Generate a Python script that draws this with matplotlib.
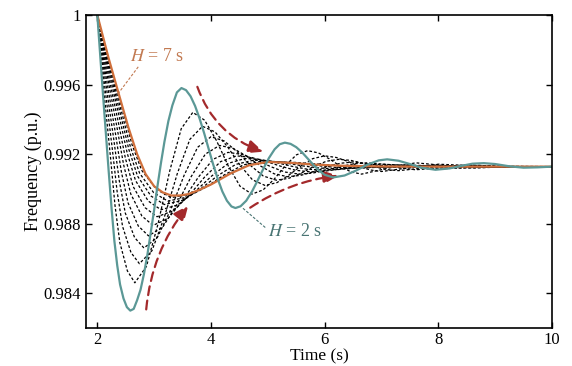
import matplotlib
matplotlib.use("Agg")
import matplotlib.pyplot as plt
from matplotlib.patches import FancyArrowPatch

plt.rcParams['font.family'] = ['Liberation Serif', 'DejaVu Serif']
plt.rcParams['mathtext.fontset'] = 'stix'

# ---- data ----
# H = 2 s (teal)
t_h2 = [2.00, 2.05, 2.10, 2.15, 2.20, 2.25, 2.30, 2.35, 2.40, 2.46, 2.52, 2.58,
        2.64, 2.70, 2.76, 2.82, 2.88, 2.94, 3.00, 3.06, 3.12, 3.18, 3.25, 3.32,
        3.40, 3.48, 3.56, 3.64, 3.72, 3.80, 3.88, 3.96, 4.04, 4.12, 4.20, 4.28,
        4.36, 4.43, 4.52, 4.62, 4.72, 4.82, 4.92, 5.02, 5.12, 5.21, 5.30, 5.40,
        5.50, 5.60, 5.70, 5.80, 5.90, 6.00, 6.15, 6.35, 6.55, 6.75, 6.95, 7.10,
        7.30, 7.50, 7.70, 7.95, 8.20, 8.40, 8.60, 8.80, 9.00, 9.25, 9.50, 9.75, 10.0]
f_h2 = [1.0000, 0.9977, 0.9954, 0.9932, 0.9910, 0.9889, 0.9870, 0.9856, 0.9845, 0.9837, 0.9832, 0.9830,
        0.9831, 0.9836, 0.9842, 0.9851, 0.9862, 0.9875, 0.9888, 0.9902, 0.9915, 0.9927, 0.9939, 0.9948,
        0.99555, 0.9958, 0.99568, 0.99533, 0.99477, 0.99404, 0.9932, 0.99229, 0.99139, 0.99056, 0.98985, 0.98932,
        0.98899, 0.9889, 0.9890, 0.98932, 0.98984, 0.99048, 0.99115, 0.99178, 0.99228, 0.99257, 0.99266, 0.99259,
        0.9924, 0.99211, 0.99175, 0.99139, 0.99106, 0.99081, 0.99066, 0.99077, 0.99105, 0.99139, 0.99164, 0.9917,
        0.99162, 0.99143, 0.99122, 0.9911, 0.99118, 0.99132, 0.99145, 0.99148, 0.99143, 0.9913, 0.99122, 0.99124, 0.99128]

# H = 7 s (orange)
t_h7 = [2.00, 2.20, 2.40, 2.55, 2.70, 2.85, 3.00, 3.15, 3.30, 3.45, 3.60, 3.80,
        4.01, 4.34, 4.67, 5.00, 5.40, 5.80, 6.30, 7.00, 8.00, 10.0]
f_h7 = [1.0000, 0.9975, 0.9952, 0.9935, 0.9920, 0.99085, 0.99015, 0.9898, 0.98962, 0.98962, 0.9897, 0.98995,
        0.99027, 0.99088, 0.99136, 0.99155, 0.9915, 0.9914, 0.99133, 0.99129, 0.99128, 0.99128]

# intermediate inertia values (black dotted)
d1_t = [2.0, 2.099, 2.231, 2.31, 2.396, 2.528, 2.66, 2.864, 3.068, 3.272, 3.476, 3.68, 3.888, 4.096, 4.304,
        4.512, 4.72, 4.916, 5.112, 5.308, 5.504, 5.70, 5.89, 6.08, 6.27, 6.46, 6.65, 7.1, 7.6, 8.1, 8.6, 9.3, 10.0]
d1_f = [1.0, 0.99615, 0.99184, 0.98907, 0.98691, 0.98529, 0.9846, 0.98554, 0.98799, 0.99101, 0.99346, 0.9944,
        0.99395, 0.99278, 0.99132, 0.99015, 0.9897, 0.98994, 0.99056, 0.99134, 0.99196, 0.9922, 0.99207, 0.99173,
        0.99132, 0.99098, 0.99085, 0.99118, 0.9915, 0.99135, 0.9912, 0.99128, 0.99128]
d2_t = [2.0, 2.111, 2.259, 2.348, 2.444, 2.592, 2.74, 2.962, 3.184, 3.406, 3.628, 3.85, 4.07, 4.29, 4.51,
        4.73, 4.95, 5.16, 5.37, 5.58, 5.79, 6.0, 6.2, 6.4, 6.6, 6.8, 7.0, 7.5, 8.0, 8.5, 9.2, 10.0]
d2_f = [1.0, 0.99642, 0.99242, 0.98985, 0.98784, 0.98634, 0.9857, 0.98645, 0.98843, 0.99087, 0.99285, 0.9936,
        0.99328, 0.99243, 0.99137, 0.99052, 0.9902, 0.99036, 0.99079, 0.99131, 0.99174, 0.9919, 0.99181, 0.99159,
        0.99131, 0.99109, 0.9910, 0.99122, 0.99142, 0.99135, 0.99124, 0.99128]
d3_t = [2.0, 2.123, 2.287, 2.385, 2.492, 2.656, 2.82, 3.056, 3.292, 3.528, 3.764, 4.0, 4.23, 4.46, 4.69,
        4.92, 5.15, 5.37, 5.59, 5.81, 6.03, 6.25, 6.46, 6.67, 6.88, 7.09, 7.3, 7.9, 8.5, 9.2, 10.0]
d3_f = [1.0, 0.99665, 0.9929, 0.99049, 0.98861, 0.9872, 0.9866, 0.98721, 0.98881, 0.99079, 0.99239, 0.9930,
        0.99276, 0.99214, 0.99136, 0.99074, 0.9905, 0.99061, 0.99091, 0.99129, 0.99159, 0.9917, 0.99164, 0.99148,
        0.99127, 0.99111, 0.99105, 0.99125, 0.99138, 0.99128, 0.99128]
d4_t = [2.0, 2.135, 2.315, 2.423, 2.54, 2.72, 2.90, 3.15, 3.40, 3.65, 3.90, 4.15, 4.39, 4.63, 4.87,
        5.11, 5.35, 5.58, 5.81, 6.04, 6.27, 6.5, 7.05, 7.6, 8.15, 8.7, 9.4, 10.0]
d4_f = [1.0, 0.99682, 0.99327, 0.99098, 0.9892, 0.98787, 0.9873, 0.9878, 0.9891, 0.9907, 0.9920, 0.9925,
        0.99233, 0.99188, 0.99132, 0.99087, 0.9907, 0.99078, 0.99099, 0.99126, 0.99147, 0.99155, 0.99132, 0.9911,
        0.99124, 0.99135, 0.99128, 0.99128]
d5_t = [2.0, 2.147, 2.343, 2.461, 2.588, 2.784, 2.98, 3.244, 3.508, 3.772, 4.036, 4.30, 4.55, 4.80, 5.05,
        5.30, 5.55, 5.79, 6.03, 6.27, 6.51, 6.75, 7.4, 8.0, 8.7, 9.4, 10.0]
d5_f = [1.0, 0.99697, 0.99359, 0.99141, 0.98971, 0.98844, 0.9879, 0.9883, 0.98935, 0.99065, 0.9917, 0.9921,
        0.99198, 0.99167, 0.99128, 0.99097, 0.99085, 0.99091, 0.99107, 0.99128, 0.99144, 0.9915, 0.99132, 0.99115,
        0.99125, 0.9913, 0.99128]
d6_t = [2.0, 2.158, 2.368, 2.494, 2.63, 2.84, 3.05, 3.33, 3.61, 3.89, 4.17, 4.45, 4.71, 4.97, 5.23,
        5.49, 5.75, 6.0, 6.25, 6.5, 6.75, 7.0, 7.7, 8.4, 9.2, 10.0]
d6_f = [1.0, 0.9971, 0.99385, 0.99176, 0.99014, 0.98892, 0.9884, 0.98873, 0.98961, 0.99069, 0.99157, 0.9919,
        0.99181, 0.99158, 0.9913, 0.99107, 0.99098, 0.99102, 0.99113, 0.99127, 0.99138, 0.99142, 0.99132, 0.9912,
        0.99127, 0.99128]
d7_t = [2.0, 2.168, 2.392, 2.526, 2.672, 2.896, 3.12, 3.416, 3.712, 4.008, 4.304, 4.6, 4.87, 5.14, 5.41,
        5.68, 5.95, 6.22, 6.49, 6.76, 7.03, 7.3, 8.0, 8.8, 10.0]
d7_f = [1.0, 0.9972, 0.99406, 0.99205, 0.99048, 0.9893, 0.9888, 0.98908, 0.98982, 0.99073, 0.99147, 0.99175,
        0.99169, 0.99152, 0.99131, 0.99114, 0.99108, 0.99111, 0.99118, 0.99128, 0.99135, 0.99138, 0.99132, 0.99124,
        0.99128]
d8_t = [2.0, 2.177, 2.413, 2.555, 2.708, 2.944, 3.18, 3.494, 3.808, 4.122, 4.436, 4.75, 5.04, 5.33, 5.62,
        5.91, 6.2, 6.9, 7.6, 8.5, 10.0]
d8_f = [1.0, 0.99727, 0.99422, 0.99226, 0.99073, 0.98959, 0.9891, 0.98934, 0.98998, 0.99077, 0.99141, 0.99165,
        0.9916, 0.99148, 0.99132, 0.9912, 0.99115, 0.99125, 0.99134, 0.99128, 0.99128]
d9_t = [2.0, 2.186, 2.434, 2.583, 2.744, 2.992, 3.24, 3.572, 3.904, 4.236, 4.568, 4.9, 5.22, 5.54, 5.86,
        6.18, 6.5, 7.2, 8.0, 9.0, 10.0]
d9_f = [1.0, 0.99732, 0.99433, 0.9924, 0.9909, 0.98978, 0.9893, 0.98952, 0.99009, 0.99081, 0.99138, 0.9916,
        0.99156, 0.99146, 0.99134, 0.99124, 0.9912, 0.99126, 0.99132, 0.99129, 0.99128]
d10_t = [2.0, 2.195, 2.455, 2.611, 2.78, 3.04, 3.30, 3.64, 3.98, 4.32, 4.66, 5.0, 5.5, 6.0, 6.5, 7.0, 8.0, 10.0]
d10_f = [1.0, 0.99737, 0.99443, 0.99254, 0.99107, 0.98997, 0.9895, 0.9897, 0.99022, 0.99086, 0.99138, 0.99158,
         0.99152, 0.9914, 0.9913, 0.99125, 0.99128, 0.99128]

dotted = [(d1_t, d1_f), (d2_t, d2_f), (d3_t, d3_f), (d4_t, d4_f), (d5_t, d5_f),
          (d6_t, d6_f), (d7_t, d7_f), (d8_t, d8_f), (d9_t, d9_f), (d10_t, d10_f)]

x_ticks = [2, 4, 6, 8, 10]
y_ticks = [0.984, 0.988, 0.992, 0.996, 1.0]
y_labels = ['0.984', '0.988', '0.992', '0.996', '1']

teal = '#5b9896'
orange = '#d0703c'
red = '#a3292b'

fig = plt.figure(figsize=(5.72, 3.66), dpi=100)
ax = fig.add_axes([0.1503, 0.1038, 0.8147, 0.8552])

for tt, ff in dotted:
    ax.plot(tt, ff, color='black', lw=0.9, linestyle=(0, (2.2, 1.6)))
ax.plot(t_h7, f_h7, color=orange, lw=1.6)
ax.plot(t_h2, f_h2, color=teal, lw=1.6)

# labels with leader lines
ax.text(2.58, 0.99759, r'$H$ = 7 s', color='#c27a52', fontsize=13, va='center', ha='left')
ax.plot([2.72, 2.35], [0.99702, 0.99541], color='#c27a52', lw=0.8, linestyle=(0, (2.5, 1.5)))
ax.text(5.01, 0.98755, r'$H$ = 2 s', color='#4a7574', fontsize=13, va='center', ha='left')
ax.plot([4.955, 4.55], [0.98778, 0.98892], color='#4a7574', lw=0.8, linestyle=(0, (2.5, 1.5)))

# curved dashed arrows
arrows = [((3.76, 0.99587), (4.92, 0.99214), 0.24),
          ((2.86, 0.98307), (3.60, 0.98904), -0.15),
          ((4.69, 0.98892), (6.24, 0.99076), -0.12)]
for start, end, rad in arrows:
    ax.add_patch(FancyArrowPatch(start, end, connectionstyle='arc3,rad=%s' % rad,
                                 arrowstyle='-|>,head_length=9,head_width=4',
                                 color=red, lw=1.6, linestyle=(0, (4, 2.5)),
                                 shrinkA=0, shrinkB=0))

ax.set_xlim(1.8, 10)
ax.set_ylim(0.982, 1.0)
ax.set_xticks(x_ticks)
ax.set_yticks(y_ticks)
ax.set_yticklabels(y_labels)
ax.tick_params(direction='in', top=True, right=True, length=4, width=1, labelsize=12, pad=3)
ax.tick_params(axis='y', pad=4)
for s in ax.spines.values():
    s.set_linewidth(1.2)
ax.set_xlabel('Time (s)', fontsize=12.5, labelpad=0)
ax.set_ylabel('Frequency (p.u.)', fontsize=13, labelpad=1)

fig.savefig('out.png', dpi=100)
